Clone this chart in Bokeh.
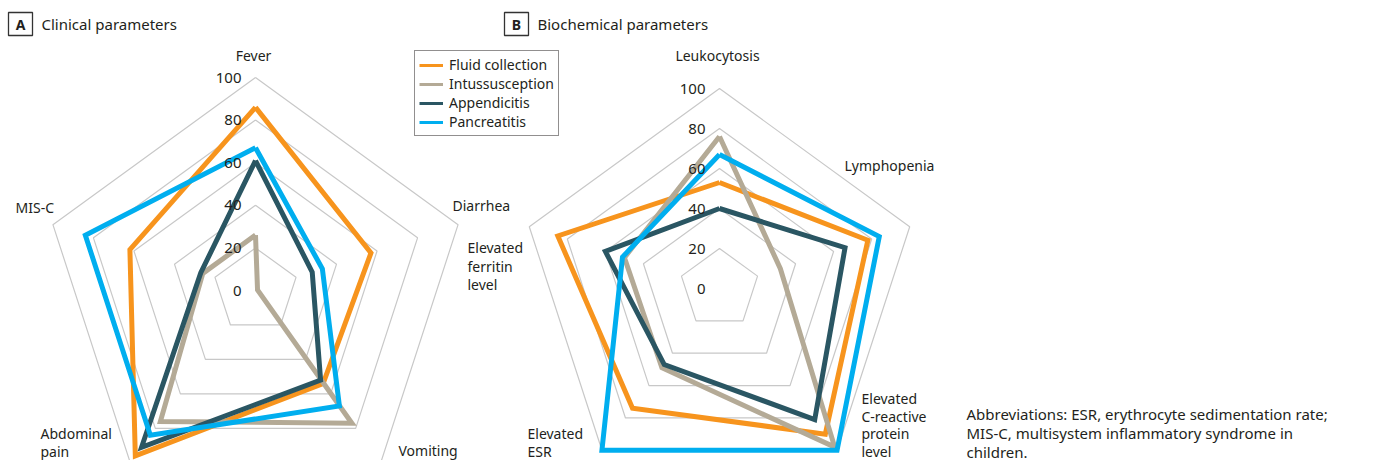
import math
from bokeh.plotting import figure
from bokeh.models import Range1d, Legend, LegendItem
from bokeh.core.properties import value
from bokeh.embed import file_html
from bokeh.resources import INLINE

# ---------------- data ----------------
series_names = ["Fluid collection", "Intussusception", "Appendicitis", "Pancreatitis"]
series_colors = ["#F7941D", "#B4AA96", "#2A5663", "#00AEEF"]

clinical_axes = ["Fever", "Diarrhea", "Vomiting", "Abdominal pain", "MIS-C"]
clinical_fluid = [86, 57, 54, 96, 62]
clinical_intus = [26, 1, 77, 76, 26]
clinical_append = [61, 28, 52, 91, 27]
clinical_pancr = [67, 33, 67, 84, 84]

biochem_axes = ["Leukocytosis", "Lymphopenia", "Elevated C-reactive protein level",
                "Elevated ESR", "Elevated ferritin level"]
biochem_fluid = [53, 78, 90, 74, 85]
biochem_intus = [76, 32, 98, 49, 50]
biochem_append = [40, 66, 81, 47, 60]
biochem_pancr = [67, 84, 100, 100, 51]

tick_values = [0, 20, 40, 60, 80, 100]
tick_labels = ["0", "20", "40", "60", "80", "100"]
grid_levels = [20, 40, 60, 80, 100]

panel_titles = ["Clinical parameters", "Biochemical parameters"]
panel_letters = ["A", "B"]
note_lines = ["Abbreviations: ESR, erythrocyte sedimentation rate;",
              "MIS-C, multisystem inflammatory syndrome in",
              "children."]

# ---------------- style / layout ----------------
FONT = "Noto Sans"
TXT = "#231F20"
GRID = "#C8C8C8"
W, H = 1361, 460

p = figure(width=W, height=H, x_range=Range1d(0, W), y_range=Range1d(H, 0),
           output_backend="svg", toolbar_location=None, min_border=0,
           x_axis_location=None, y_axis_location=None)
p.grid.visible = False
p.outline_line_color = None
p.background_fill_color = "white"


def polar(cx, cy, R, v, k):
    a = math.radians(90 - 72 * k)
    return cx + R * v / 100.0 * math.cos(a), cy - R * v / 100.0 * math.sin(a)


def radar(cx, cy, R, series):
    gx, gy = [], []
    for lv in grid_levels:
        pts = [polar(cx, cy, R, lv, k) for k in range(6)]
        gx.append([q[0] for q in pts])
        gy.append([q[1] for q in pts])
    p.multi_line(xs=gx, ys=gy, line_color=GRID, line_width=1.2)
    for vals, col in zip(series, series_colors):
        pts = [polar(cx, cy, R, vals[k % 5], k % 5) for k in range(6)]
        p.line(x=[q[0] for q in pts], y=[q[1] for q in pts], line_color=col,
               line_width=5, line_join="miter")
    p.text(x=[cx - 14] * len(tick_values), y=[cy - R * t / 100.0 for t in tick_values],
           text=tick_labels, text_align="right", text_baseline="middle",
           text_font=value(FONT), text_font_size="15px", text_color=TXT)


radar(255, 290, 213, [clinical_fluid, clinical_intus, clinical_append, clinical_pancr])
radar(719, 288, 200, [biochem_fluid, biochem_intus, biochem_append, biochem_pancr])

# axis labels (line-broken as in the figure): lines, x, first-line y, line step, align
label_layout = [
    (["Fever"], 253, 55, 0, "center"),
    (["Diarrhea"], 452, 205, 0, "left"),
    (["Vomiting"], 398, 450, 0, "left"),
    (["Abdominal", "pain"], 40, 433, 18, "left"),
    (["MIS-C"], 15, 207, 0, "left"),
    (["Leukocytosis"], 717, 55, 0, "center"),
    (["Lymphopenia"], 844, 165, 0, "left"),
    (["Elevated", "C-reactive", "protein", "level"], 861, 398, 17.7, "left"),
    (["Elevated", "ESR"], 527, 433, 18, "left"),
    (["Elevated", "ferritin", "level"], 467, 247, 18.5, "left"),
]
for lines, x, y, step, al in label_layout:
    p.text(x=[x] * len(lines), y=[y + step * i for i in range(len(lines))], text=lines,
           text_align=al, text_baseline="middle", text_font=value(FONT),
           text_font_size="14px", text_color=TXT)

# panel titles
for letter, title, bx in zip(panel_letters, panel_titles, [8, 504]):
    p.rect(x=[bx + 12], y=[23.5], width=24, height=23, fill_color=None,
           line_color="#333333", line_width=1.3)
    p.text(x=[bx + 12], y=[24], text=[letter], text_align="center", text_baseline="middle",
           text_font=value(FONT), text_font_size="14px", text_font_style="bold", text_color=TXT)
    p.text(x=[bx + 33], y=[23], text=[title], text_align="left", text_baseline="middle",
           text_font=value(FONT), text_font_size="15px", text_color=TXT)

# note
p.text(x=[966] * 3, y=[413, 432, 451], text=note_lines, text_align="left",
       text_baseline="middle", text_font=value(FONT), text_font_size="15px", text_color=TXT)

# legend (sample lines are thinner than the data lines)
items = []
for name, col in zip(series_names, series_colors):
    r = p.line(x=[float("nan")], y=[float("nan")], line_color=col, line_width=3)
    items.append(LegendItem(label=name, renderers=[r]))
legend = Legend(items=items, location=(414, H - 136), margin=0, padding=4, spacing=0,
                glyph_width=24, glyph_height=18, label_height=18, label_standoff=6,
                label_text_font=FONT, label_text_font_size="14px", label_text_color=TXT,
                label_text_baseline="middle",
                border_line_color="#231F20", border_line_width=1,
                background_fill_color="white", background_fill_alpha=1.0)
p.add_layout(legend)

open("out.html", "w").write(file_html(p, INLINE))
